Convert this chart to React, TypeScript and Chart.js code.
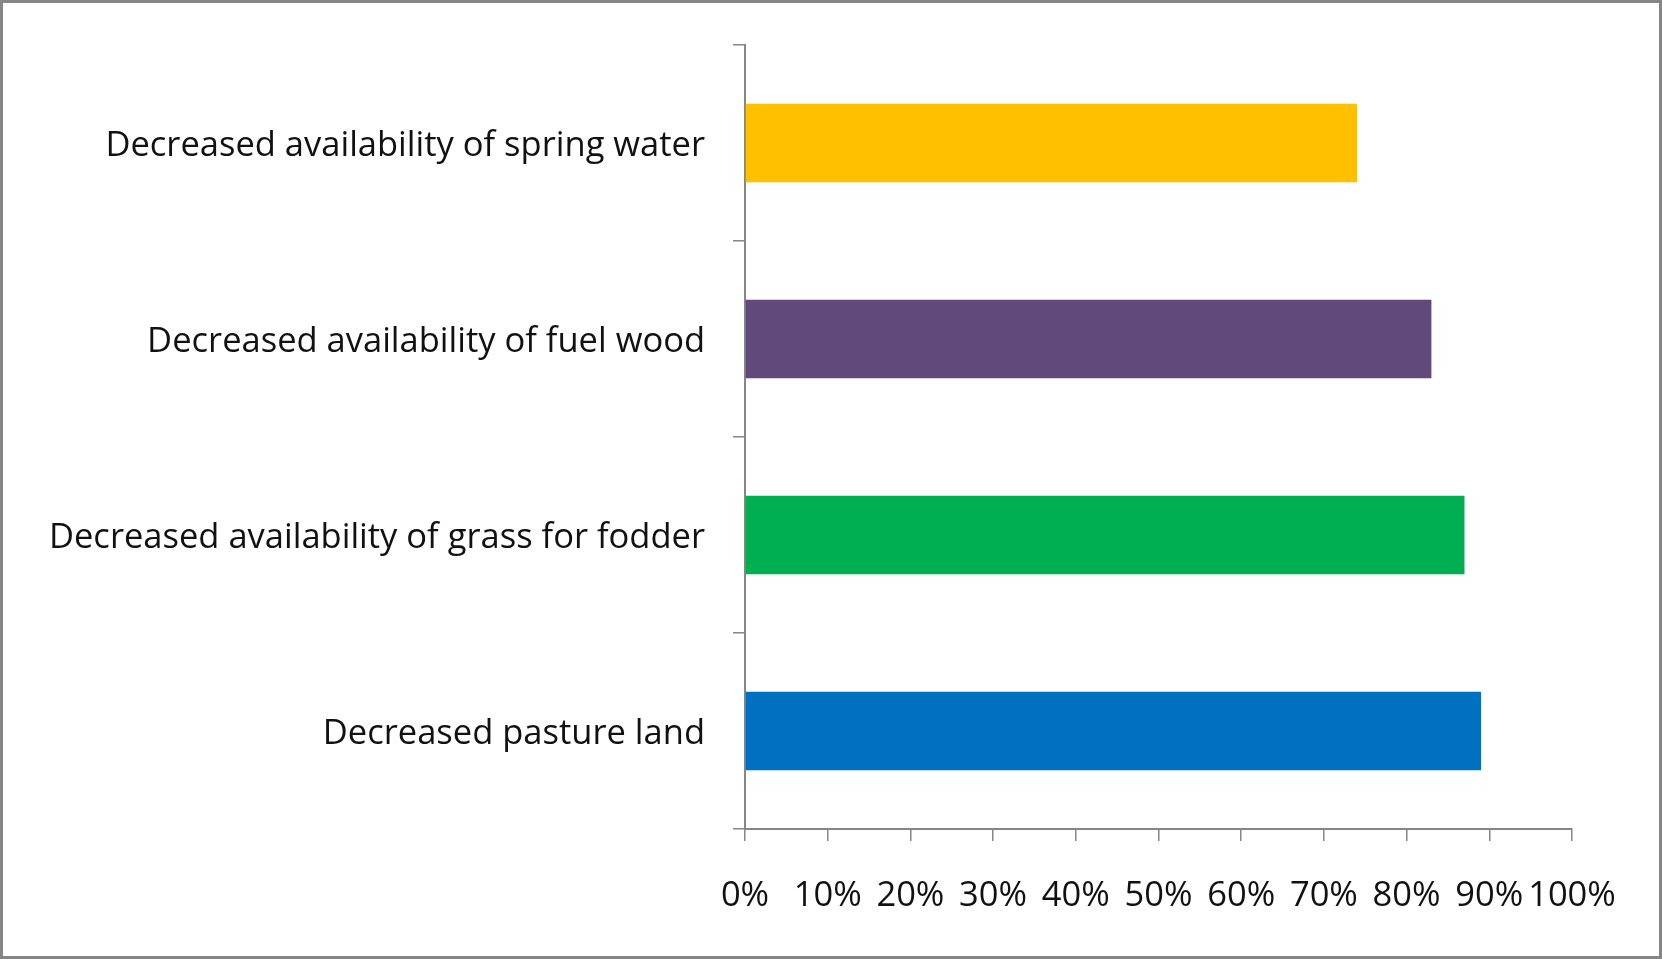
import React, { useEffect, useRef } from "react";
import { Chart, registerables } from "chart.js";

Chart.register(...registerables);

const categories = [
  "Decreased availability of spring water",
  "Decreased availability of fuel wood",
  "Decreased availability of grass for fodder",
  "Decreased pasture land",
];
const values = [74, 83, 87, 89];
const barColors = ["#FFC000", "#604A7B", "#00B050", "#0070C0"];
const xTickMax = 100;
const xTickStep = 10;

const FONT = "'Open Sans', Lato, sans-serif";
const AXIS_GRAY = "#868686";

export default function App() {
  const ref = useRef<HTMLCanvasElement | null>(null);

  useEffect(() => {
    document.body.style.margin = "0";
    const ctx = ref.current!;
    const chart = new Chart(ctx, {
      type: "bar",
      data: {
        labels: categories,
        datasets: [
          {
            data: values,
            backgroundColor: barColors,
            borderWidth: 0,
            categoryPercentage: 1,
            barPercentage: 0.4,
          },
        ],
      },
      options: {
        indexAxis: "y",
        animation: false,
        responsive: false,
        maintainAspectRatio: false,
        layout: { padding: { top: 42, right: 87, bottom: 0, left: 0 } },
        plugins: { legend: { display: false }, tooltip: { enabled: false } },
        scales: {
          y: {
            grid: {
              display: true,
              offset: true,
              drawOnChartArea: false,
              drawTicks: true,
              tickLength: 12,
              color: AXIS_GRAY,
              lineWidth: 1.5,
            },
            border: { display: true, color: AXIS_GRAY, width: 2 },
            ticks: {
              color: "#111",
              font: { family: FONT, size: 34.5 },
              padding: 28,
              labelOffset: 3,
            },
            afterFit: (scale: any) => {
              scale.width = 742;
              scale.paddingTop = 0;
              scale.paddingBottom = 0;
            },
          },
          x: {
            min: 0,
            max: xTickMax,
            grid: {
              display: true,
              drawOnChartArea: false,
              drawTicks: true,
              tickLength: 12,
              color: AXIS_GRAY,
              lineWidth: 1.5,
            },
            border: { display: true, color: AXIS_GRAY, width: 2 },
            ticks: {
              stepSize: xTickStep,
              color: "#111",
              font: { family: FONT, size: 34.5 },
              padding: 34,
              maxRotation: 0,
              autoSkip: false,
              callback: (v: any) => v + "%",
            },
            afterFit: (scale: any) => {
              scale.height = 127;
            },
          },
        },
      },
    });
    return () => chart.destroy();
  }, []);

  return (
    <div
      style={{
        position: "absolute",
        left: 0,
        top: 0,
        width: 1662,
        height: 959,
        boxSizing: "border-box",
        border: "3px solid #868686",
        background: "#fff",
      }}
    >
      <canvas ref={ref} width={1656} height={953} style={{ display: "block" }} />
    </div>
  );
}
